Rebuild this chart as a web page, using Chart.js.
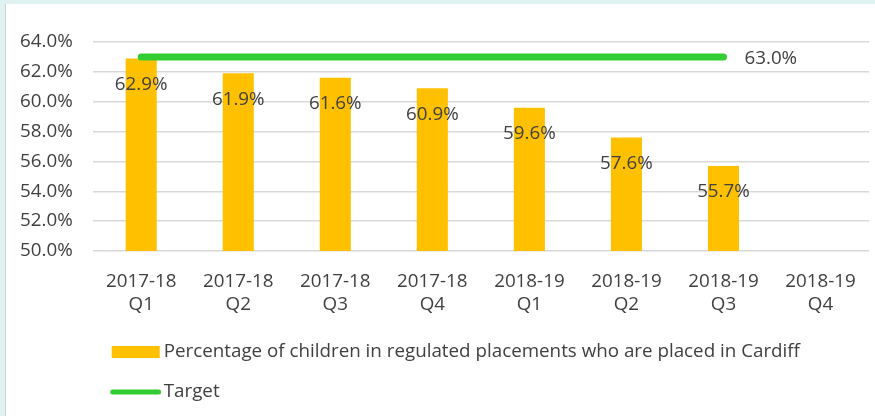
<!DOCTYPE html>
<html>
<head>
<meta charset="utf-8">
<script src="https://cdn.jsdelivr.net/npm/chart.js@4.4.1/dist/chart.umd.min.js"></script>
<style>
  html, body { margin: 0; padding: 0; background: #ffffff; }
  #wrap { position: relative; width: 875px; height: 416px; overflow: hidden; background: #ffffff; }
  #topband { position: absolute; left: 0; top: 0; width: 875px; height: 4px; background: #dff1f1; }
  #leftband { position: absolute; left: 0; top: 0; width: 5px; height: 416px; background: #dff1f1; }
  #leftline { position: absolute; left: 5px; top: 4px; width: 1px; height: 412px; background: #c9d3d3; }
  canvas { position: absolute; left: 0; top: 0; }
</style>
</head>
<body>
<div id="wrap">
  <div id="topband"></div>
  <div id="leftband"></div>
  <div id="leftline"></div>
  <canvas id="c" width="875" height="416"></canvas>
</div>
<script>
const categories = [
  ['2017-18', 'Q1'], ['2017-18', 'Q2'], ['2017-18', 'Q3'], ['2017-18', 'Q4'],
  ['2018-19', 'Q1'], ['2018-19', 'Q2'], ['2018-19', 'Q3'], ['2018-19', 'Q4']
];
const placedInCardiff = [62.9, 61.9, 61.6, 60.9, 59.6, 57.6, 55.7, null];
const target = [63.0, 63.0, 63.0, 63.0, 63.0, 63.0, 63.0, null];
const yTicks = [50, 52, 54, 56, 58, 60, 62, 64];
const barLabel = 'Percentage of children in regulated placements who are placed in Cardiff';
const lineLabel = 'Target';

const FONT = 'Open Sans';
const FS = 18.8;
const TEXT = '#404040';
const BAR = '#ffc000';
const GREEN = '#33cc33';

const valueLabels = {
  id: 'valueLabels',
  afterDatasetsDraw(chart) {
    const ctx = chart.ctx;
    ctx.save();
    ctx.font = FS + 'px "' + FONT + '"';
    ctx.fillStyle = TEXT;
    ctx.textBaseline = 'middle';
    const barMeta = chart.getDatasetMeta(0);
    barMeta.data.forEach((el, i) => {
      const v = placedInCardiff[i];
      if (v == null) return;
      ctx.textAlign = 'center';
      ctx.fillText(v.toFixed(1) + '%', el.x, el.y + 26);
    });
    const lineMeta = chart.getDatasetMeta(1);
    let last = -1;
    target.forEach((v, i) => { if (v != null) last = i; });
    if (last >= 0) {
      const p = lineMeta.data[last];
      ctx.textAlign = 'left';
      ctx.fillText(target[last].toFixed(1) + '%', p.x + 21, p.y + 2);
    }
    ctx.restore();
  }
};

const customLegend = {
  id: 'customLegend',
  afterDraw(chart) {
    const ctx = chart.ctx;
    const x0 = chart.chartArea.left + 19;
    const y1 = chart.height - 64;
    const y2 = chart.height - 24;
    ctx.save();
    ctx.font = FS + 'px "' + FONT + '"';
    ctx.textBaseline = 'middle';
    ctx.textAlign = 'left';
    ctx.fillStyle = BAR;
    ctx.fillRect(x0, y1 - 6, 48, 12);
    ctx.fillStyle = TEXT;
    ctx.fillText(chart.data.datasets[0].label, x0 + 52, y1);
    ctx.strokeStyle = GREEN;
    ctx.lineWidth = 5;
    ctx.lineCap = 'round';
    ctx.beginPath();
    ctx.moveTo(x0 + 1, y2);
    ctx.lineTo(x0 + 47, y2);
    ctx.stroke();
    ctx.fillText(chart.data.datasets[1].label, x0 + 52, y2);
    ctx.restore();
  }
};

new Chart(document.getElementById('c'), {
  data: {
    labels: categories,
    datasets: [
      {
        type: 'bar',
        label: barLabel,
        data: placedInCardiff,
        backgroundColor: BAR,
        borderWidth: 0,
        barPercentage: 0.32,
        categoryPercentage: 1.0,
        order: 2
      },
      {
        type: 'line',
        label: lineLabel,
        data: target,
        borderColor: GREEN,
        backgroundColor: GREEN,
        borderWidth: 7,
        borderCapStyle: 'round',
        pointRadius: 0,
        pointHoverRadius: 0,
        fill: false,
        spanGaps: false,
        order: 1
      }
    ]
  },
  options: {
    responsive: false,
    animation: false,
    devicePixelRatio: 1,
    layout: { padding: { left: 0, right: 4, top: 42, bottom: 81 } },
    plugins: {
      legend: { display: false },
      tooltip: { enabled: false }
    },
    scales: {
      x: {
        grid: { display: false, drawTicks: false },
        border: { display: false },
        ticks: {
          color: TEXT,
          font: { family: FONT, size: FS, lineHeight: '23px' },
          padding: 19,
          maxRotation: 0,
          autoSkip: false
        }
      },
      y: {
        min: 50,
        max: 64,
        afterBuildTicks(scale) { scale.ticks = yTicks.map(v => ({ value: v })); },
        grid: { color: '#d9d9d9', lineWidth: 1.5, drawTicks: false },
        border: { display: false },
        ticks: {
          color: TEXT,
          font: { family: FONT, size: FS },
          padding: 20,
          callback: v => Number(v).toFixed(1) + '%'
        }
      }
    }
  },
  plugins: [valueLabels, customLegend]
});
</script>
</body>
</html>
